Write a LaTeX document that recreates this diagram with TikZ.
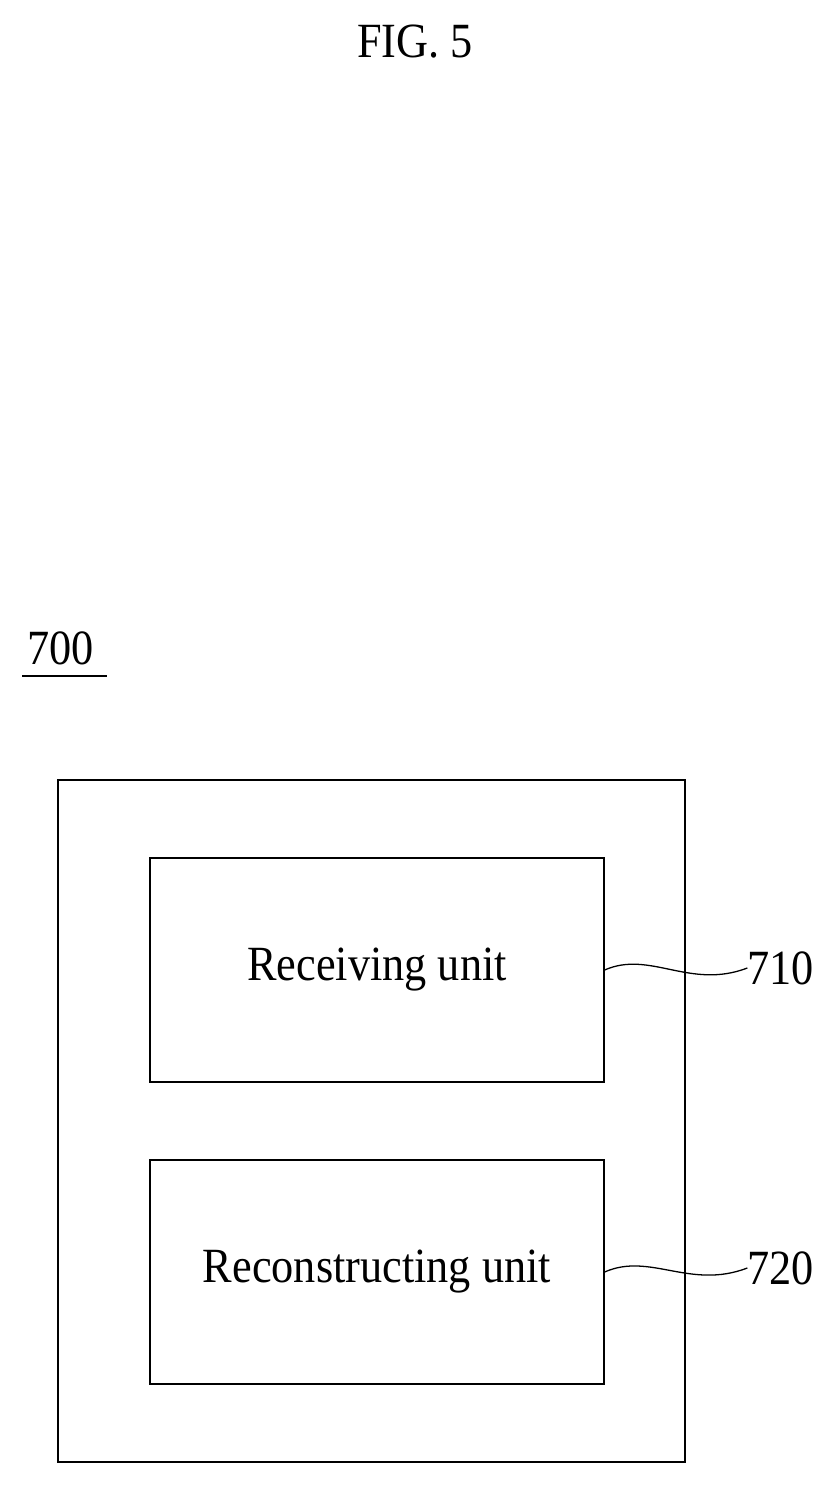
\documentclass[tikz,border=0pt]{standalone}
\usepackage{fontspec}
\setmainfont{Liberation Serif}
\newfontfamily\narrow[FakeStretch=0.9]{Liberation Serif}
\usetikzlibrary{positioning}
\tikzstyle{unit} = [line width=1.1pt, rectangle, minimum width=13.62cm, minimum height=6.72cm, text centered, draw=black, font=\narrow\fontsize{42}{46}\selectfont]
\tikzstyle{label} = [font=\narrow\fontsize{42}{46}\selectfont, inner sep=0pt]
\tikzstyle{leader} = [line width=1.1pt]
\begin{document}
\begin{tikzpicture}[x=0.03cm, y=0.03cm]
\useasboundingbox (0,0) rectangle (837,1485);

\node (fig) [label] at (415,1443) {FIG. 5};
\node (dev) [label, anchor=west] at (27,837) {700};
\draw [leader] (22,809) -- (107,809);

\draw [line width=1.1pt] (58,23) rectangle (685,705);
\node (recv) [unit] at (377,515) {Receiving unit};
\node (recon) [unit] at (377,213) {Reconstructing unit};

\node (l710) [label, anchor=west, xshift=8] at (738,517) {710};
\node (l720) [label, anchor=west, xshift=8] at (738,217) {720};

\draw [leader] (recv.east) .. controls (650,535) and (690,495) .. (l710.west);
\draw [leader] (recon.east) .. controls (650,233) and (690,195) .. (l720.west);
\end{tikzpicture}
\end{document}
